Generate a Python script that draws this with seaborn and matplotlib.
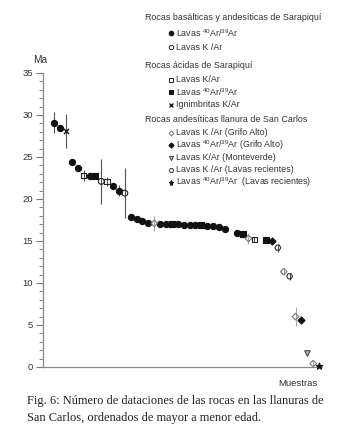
import numpy as np
import pandas as pd
import matplotlib
matplotlib.use('Agg')
import matplotlib.pyplot as plt
from matplotlib.lines import Line2D
from matplotlib.ticker import MultipleLocator
import seaborn as sns

# datos
muestra = [1, 2, 3, 4, 5, 6, 7, 8, 9, 10, 11, 12, 13, 14, 15, 16, 17, 18, 19, 20,
           21, 22, 23, 24, 25, 26, 27, 28, 29, 30, 32, 33, 34, 35, 37, 38, 39, 40,
           41, 42, 43, 44, 45, 46]
edad = [29.1, 28.4, 28.1, 24.4, 23.7, 22.8, 22.7, 22.7, 22.1, 22.1, 21.5, 21.0, 20.7,
        17.8, 17.6, 17.4, 17.2, 17.1, 17.0, 17.0, 17.0, 17.0, 16.9, 16.9, 16.9, 16.9,
        16.8, 16.8, 16.7, 16.4, 16.0, 15.8, 15.3, 15.2, 15.1, 15.0, 14.2, 11.35, 10.8,
        6.0, 5.55, 1.7, 0.4, 0.1]
error = [1.3, 0.35, 2.05, 0, 0, 0.6, 0, 0, 2.65, 0.55, 0, 0.65, 3.0,
         0, 0, 0, 0, 0.9, 0, 0, 0, 0, 0, 0, 0, 0,
         0, 0, 0, 0, 0, 0, 0.6, 0.3, 0, 0, 0.5, 0.4, 0.4,
         1.1, 0, 0, 0.45, 0]
tipo = ['sar_ar', 'sar_ar', 'ign', 'sar_ar', 'sar_ar', 'aci_k', 'sar_ar', 'aci_ar',
        'sar_k', 'aci_k', 'sar_ar', 'sar_ar', 'sar_k', 'sar_ar', 'sar_ar', 'sar_ar',
        'sar_ar', 'ga_k', 'sar_ar', 'sar_ar', 'aci_ar', 'sar_ar', 'sar_ar', 'sar_ar',
        'sar_ar', 'aci_ar', 'sar_ar', 'sar_ar', 'sar_ar', 'sar_ar', 'sar_ar', 'aci_ar',
        'ga_k', 'aci_k', 'aci_ar', 'ga_ar', 'rec_k', 'ga_k', 'rec_k', 'ga_k', 'ga_ar',
        'mv', 'ga_k', 'rec_ar']

df = pd.DataFrame({'muestra': muestra, 'edad': edad, 'error': error, 'tipo': tipo})

estilos = {
    'sar_ar': dict(marker='o', fc='#111111', ec='#111111', s=20),
    'sar_k': dict(marker='o', fc='none', ec='#222222', s=18),
    'aci_k': dict(marker='s', fc='none', ec='#222222', s=16),
    'aci_ar': dict(marker='s', fc='#111111', ec='#111111', s=16),
    'ign': dict(marker='x', fc='#222222', ec='#222222', s=14),
    'ga_k': dict(marker='D', fc='none', ec='#777777', s=11),
    'ga_ar': dict(marker='D', fc='#111111', ec='#111111', s=13),
    'mv': dict(marker='v', fc='#bbbbbb', ec='#444444', s=16),
    'rec_k': dict(marker='H', fc='none', ec='#333333', s=18),
    'rec_ar': dict(marker='*', fc='#111111', ec='#111111', s=24),
}

sns.set_style('ticks')
plt.rcParams['font.family'] = ['Liberation Sans', 'DejaVu Sans']
plt.rcParams['mathtext.fontset'] = 'custom'
plt.rcParams['mathtext.rm'] = 'Liberation Sans'

fig = plt.figure(figsize=(3.43, 4.46), dpi=100)
ax = fig.add_axes([43 / 343, 79 / 446, 279 / 343, 294 / 446])

# barras de error
con_error = df[df['error'] > 0]
for _, r in con_error.iterrows():
    c = '#aaaaaa' if r['tipo'] == 'ga_k' else '#555555'
    ax.errorbar(r['muestra'], r['edad'], yerr=r['error'], fmt='none',
                ecolor=c, elinewidth=0.8, capsize=0, zorder=1)

for t, st in estilos.items():
    sub = df[df['tipo'] == t]
    if sub.empty:
        continue
    if st['marker'] == 'x':
        sns.scatterplot(data=sub, x='muestra', y='edad', marker='x', color=st['ec'],
                        s=st['s'], linewidth=1.1, ax=ax, zorder=3, clip_on=False)
    else:
        sns.scatterplot(data=sub, x='muestra', y='edad', marker=st['marker'],
                        facecolor=st['fc'], edgecolor=st['ec'], linewidth=0.8,
                        s=st['s'], ax=ax, zorder=3, clip_on=False)

ax.set_xlim(-0.9, 46.5)
ax.set_ylim(0, 35)
ax.yaxis.set_major_locator(MultipleLocator(5))
ax.yaxis.set_minor_locator(MultipleLocator(1))
ax.set_xticks([])
ax.set_xlabel('')
ax.set_ylabel('')
sns.despine(ax=ax)
for sp in ['left', 'bottom']:
    ax.spines[sp].set_color('#888888')
    ax.spines[sp].set_linewidth(0.9)
ax.tick_params(axis='y', which='major', length=5, width=0.8, color='#777777',
               labelsize=6.8, labelcolor='#333333', pad=2)
ax.tick_params(axis='y', which='minor', length=3, width=0.7, color='#888888')

fig.text(40 / 343, 1 - 60 / 446, 'Ma', fontsize=7.3, color='#333333', ha='center', va='center')
fig.text(298 / 343, 1 - 383 / 446, 'Muestras', fontsize=6.8, color='#333333',
         ha='center', va='center')

# leyenda
def titulo(y, texto):
    fig.text(145 / 343, 1 - y / 446, texto, fontsize=6.4, color='#333333', va='center')

def fila(y, t, texto):
    st = estilos[t]
    ms = np.sqrt(st['s']) * 0.75
    fig.add_artist(Line2D([171 / 343], [1 - y / 446], transform=fig.transFigure,
                          marker=st['marker'], markersize=ms, linestyle='none',
                          markerfacecolor=st['fc'], markeredgecolor=st['ec'],
                          markeredgewidth=1.0 if st['marker'] == 'x' else 0.7))
    fig.text(176 / 343, 1 - y / 446, texto, fontsize=6.4, color='#333333', va='center')

arar = r'Lavas $^{40}$Ar/$^{39}$Ar'
titulo(18, 'Rocas basálticas y andesíticas de Sarapiquí')
fila(33, 'sar_ar', arar)
fila(47, 'sar_k', 'Lavas K /Ar')
titulo(66, 'Rocas ácidas de Sarapiquí')
fila(79.5, 'aci_k', 'Lavas K/Ar')
fila(92, 'aci_ar', arar)
fila(104.5, 'ign', 'Ignimbritas K/Ar')
titulo(120, 'Rocas andesíticas llanura de San Carlos')
fila(132.5, 'ga_k', 'Lavas K /Ar (Grifo Alto)')
fila(145, 'ga_ar', arar + ' (Grifo Alto)')
fila(157.5, 'mv', 'Lavas K/Ar (Monteverde)')
fila(170, 'rec_k', 'Lavas K /Ar (Lavas recientes)')
fila(182.5, 'rec_ar', arar + '  (Lavas recientes)')

# pie de figura
fig.text(27 / 343, 1 - 401 / 446, 'Fig. 6: Número de dataciones de las rocas en las llanuras de',
         family='Liberation Serif', fontsize=8.9, color='#222222', va='center')
fig.text(27 / 343, 1 - 418 / 446, 'San Carlos, ordenados de mayor a menor edad.',
         family='Liberation Serif', fontsize=8.9, color='#222222', va='center')

fig.savefig('out.png', dpi=100)
